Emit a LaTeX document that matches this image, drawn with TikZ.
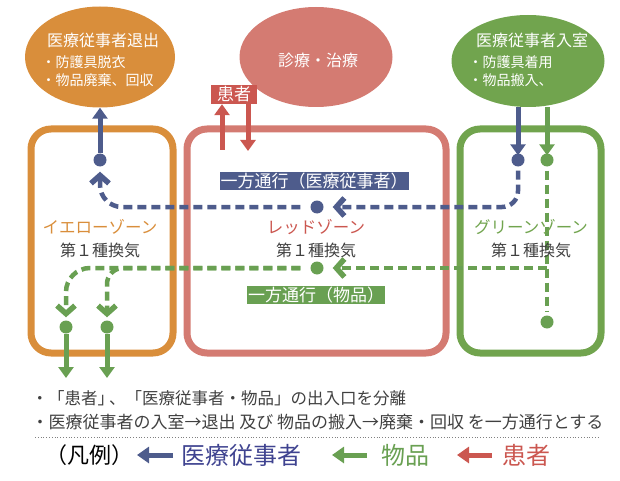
\documentclass[tikz,border=0pt]{standalone}
\usepackage{fontspec}
\newfontfamily\jpfont{Noto Sans CJK JP}
\usetikzlibrary{shapes.geometric, arrows.meta}
\definecolor{zoneorange}{HTML}{D98E3B}
\definecolor{zonered}{HTML}{D47B72}
\definecolor{zonegreen}{HTML}{71A44E}
\definecolor{staffblue}{HTML}{4E5C8C}
\definecolor{goodsgreen}{HTML}{69A052}
\definecolor{patientred}{HTML}{CB5750}
\definecolor{textgray}{HTML}{404040}
\definecolor{legendblue}{HTML}{3F4390}

\begin{document}
\begin{tikzpicture}[x=1pt, y=-1pt, font=\jpfont,
    ell/.style={ellipse, inner sep=0pt},
    zone/.style={line width=7pt, rounded corners=20pt},
    dot/.style={circle, inner sep=0pt, minimum size=13pt},
    solidarr/.style={line width=5pt, -{Triangle[length=11pt,width=15pt]}},
    dasharr/.style={line width=4.5pt, dash pattern=on 9pt off 5pt,
        -{Straight Barb[length=8pt,width=18pt,line width=5.5pt]}},
    tag/.style={inner sep=1pt, text=white, font=\jpfont\fontsize{17}{18}\selectfont},
    eltitle/.style={text=white, font=\jpfont\fontsize{16}{17}\selectfont},
    elitem/.style={text=white, anchor=west, font=\jpfont\fontsize{14}{15}\selectfont},
    zonename/.style={font=\jpfont\fontsize{16.5}{17}\selectfont},
    vent/.style={text=textgray, font=\jpfont\fontsize{16}{17}\selectfont},
    note/.style={text=textgray, anchor=west, font=\jpfont\fontsize{17}{18}\selectfont},
    legtext/.style={anchor=west, font=\jpfont\fontsize{24}{25}\selectfont},
    legarr/.style={line width=5pt, -{Triangle[length=12pt,width=16pt]}}]
    \useasboundingbox (0,0) rectangle (620,481);

    % Zones
    \draw[zone, zoneorange] (31,129) rectangle (173,353);
    \draw[zone, zonered] (187,129) rectangle (446,353);
    \draw[zone, zonegreen] (460,129) rectangle (601,353);
    \node[zonename, text=zoneorange] (yname) at (100,227) {イエローゾーン};
    \node[vent] (yvent) at (100,250) {第１種換気};
    \node[zonename, text=patientred] (rname) at (316,227) {レッドゾーン};
    \node[vent] (rvent) at (316,250) {第１種換気};

    % Ellipses
    \node[ell, fill=zoneorange, minimum width=150pt, minimum height=101pt] (exitE) at (100,57) {};
    \node[eltitle] (exitT) at (103,40) {医療従事者退出};
    \node[elitem] (exitA) at (38,62) {・防護具脱衣};
    \node[elitem] (exitB) at (38,80) {・物品廃棄、回収};

    \node[ell, fill=zonered, minimum width=153pt, minimum height=100pt] (careE) at (316,57) {};
    \node[eltitle] (careT) at (318,60) {診療・治療};

    \node[ell, fill=zonegreen, minimum width=153pt, minimum height=92pt] (entE) at (528,61) {};
    \node[eltitle] (entT) at (532,40) {医療従事者入室};
    \node[elitem] (entA) at (465,62) {・防護具着用};
    \node[elitem] (entB) at (465,80) {・物品搬入、};

    % Patient
    \node[tag, fill=patientred, minimum width=46pt, minimum height=19pt] (patient) at (234,94.5) {患者};
    \coordinate (pIn) at (222,150);
    \coordinate (pOut) at (248,148);
    \draw[solidarr, patientred] (pIn) -- (patient.south -| pIn);
    \draw[solidarr, patientred, shorten >=-3pt] (patient.south -| pOut) -- (pOut);

    % Dots
    \node[dot, fill=staffblue] (bdotG) at (518,160) {};
    \node[dot, fill=goodsgreen] (gdotG) at (547,160) {};
    \node[dot, fill=goodsgreen] (gdotB) at (547,322) {};
    \node[dot, fill=staffblue] (rdotB) at (317,207) {};
    \node[dot, fill=goodsgreen] (rdotG) at (317,268) {};
    \node[dot, fill=staffblue] (ydotB) at (100,160) {};
    \node[dot, fill=goodsgreen] (ydotG1) at (66,327) {};
    \node[dot, fill=goodsgreen] (ydotG2) at (107,327) {};

    % Staff route
    \draw[solidarr, staffblue, shorten >=-2pt] (bdotG |- entE.south) -- (bdotG);
    \draw[dasharr, staffblue, rounded corners=16pt, shorten <=4pt, shorten >=9pt] (bdotG) |- (rdotB);
    \draw[dasharr, staffblue, rounded corners=22pt, shorten <=10pt, shorten >=5pt] (rdotB) -| (ydotB);
    \draw[solidarr, staffblue] (ydotB) -- (exitE.south);

    % Goods route
    \coordinate (gjoin) at (gdotG |- rdotG);
    \draw[solidarr, goodsgreen, shorten >=-2pt] (gdotG |- entE.south) -- (gdotG);
    \draw[line width=4.5pt, dash pattern=on 9pt off 5pt, goodsgreen, shorten <=4pt, shorten >=4pt] (gdotG) -- (gdotB);
    \draw[dasharr, goodsgreen, shorten >=9pt] (gjoin) -- (rdotG);
    \draw[dasharr, goodsgreen, rounded corners=24pt, shorten <=10pt, shorten >=3pt] (rdotG) -| (ydotG1);
    \draw[dasharr, goodsgreen, rounded corners=16pt, shorten <=10pt, shorten >=3pt] (rdotG) -| (ydotG2);
    \coordinate (gout1) at (66,378);
    \coordinate (gout2) at (107,378);
    \draw[solidarr, goodsgreen] (ydotG1) -- (gout1);
    \draw[solidarr, goodsgreen] (ydotG2) -- (gout2);

    \node[zonename, text=zonegreen] (gname) at (531,227) {グリーンゾーン};
    \node[vent] (gvent) at (531,250) {第１種換気};

    % One-way labels
    \node[tag, fill=staffblue] (staffTag) at (314,181) {一方通行（医療従事者）};
    \node[tag, fill=goodsgreen] (goodsTag) at (316,295) {一方通行（物品）};

    % Notes
    \node[note, font=\jpfont\fontsize{16.5}{18}\selectfont] (note1) at (28,398) {・「患者」\kern-0.3em、「医療従事者・物品」の出入口を分離};
    \node[note] (note2) at (28,422) {・医療従事者の入室→退出 及び 物品の搬入→廃棄・回収 を一方通行とする};
    \draw[gray, dotted, line width=0.8pt] (35,437) -- (600,437);

    % Legend
    \node[legtext, text=black, font=\jpfont\fontsize{22}{23}\selectfont] (legHead) at (42,455) {（凡例）};
    \node[legtext, text=legendblue] (legStaff) at (178,455) {医療従事者};
    \node[legtext, text=goodsgreen] (legGoods) at (378,455) {物品};
    \node[legtext, text=patientred] (legPat) at (499,455) {患者};
    \coordinate (lgB) at (173,455);
    \coordinate (lgG) at (367,455);
    \coordinate (lgR) at (492,455);
    \draw[legarr, staffblue] (lgB) -- ++(-36,0);
    \draw[legarr, goodsgreen] (lgG) -- ++(-35,0);
    \draw[legarr, patientred] (lgR) -- ++(-35,0);
\end{tikzpicture}
\end{document}
